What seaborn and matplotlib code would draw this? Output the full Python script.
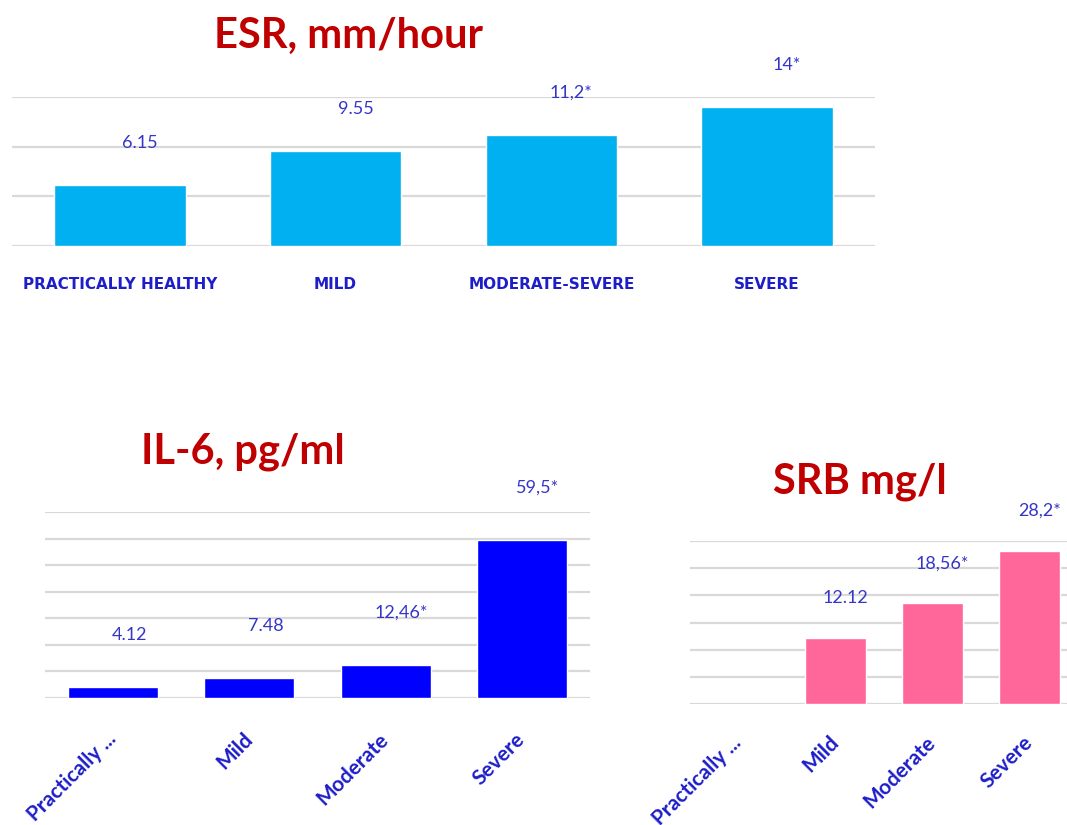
import numpy as np
import matplotlib
matplotlib.use("Agg")
import matplotlib.pyplot as plt
import seaborn as sns

# ---- data ----
esr_categories = ["PRACTICALLY HEALTHY", "MILD", "MODERATE-SEVERE", "SEVERE"]
esr_values = [6.15, 9.55, 11.2, 14.0]
esr_labels = ["6.15", "9.55", "11,2*", "14*"]

il6_categories = ["Practically ...", "Mild", "Moderate", "Severe"]
il6_values = [4.12, 7.48, 12.46, 59.5]
il6_labels = ["4.12", "7.48", "12,46*", "59,5*"]

srb_categories = ["Practically ...", "Mild", "Moderate", "Severe"]
srb_values = [np.nan, 12.12, 18.56, 28.2]
srb_labels = ["", "12.12", "18,56*", "28,2*"]

# ---- style ----
sns.set_style("white")
plt.rcParams["font.family"] = ["Lato", "DejaVu Sans"]

TITLE_COLOR = "#c00000"
LABEL_COLOR = "#3535c8"
TICK_COLOR = "#1e1ec8"
GRID_COLOR = "#d9d9d9"

W, H = 1067, 825
fig = plt.figure(figsize=(W / 100, H / 100), dpi=100)


def px_axes(left, right, top, bottom):
    return fig.add_axes([left / W, 1 - bottom / H, (right - left) / W, (bottom - top) / H])


def style_axes(ax, ymax, step):
    ax.set_xlim(-0.5, 3.5)
    ax.set_ylim(0, ymax)
    ax.set_yticks(np.arange(0, ymax + step / 2, step))
    ax.yaxis.grid(True, color=GRID_COLOR, lw=1.6)
    ax.set_axisbelow(True)
    ax.tick_params(axis="y", left=False, labelleft=False)
    ax.tick_params(axis="x", bottom=False)
    for s in ax.spines.values():
        s.set_visible(False)
    ax.set_xlabel("")
    ax.set_ylabel("")
    ax.patch.set_alpha(0)


def value_labels(ax, values, labels, dx_px, dy_px, size=13):
    for i, (v, t) in enumerate(zip(values, labels)):
        if not t or np.isnan(v):
            continue
        ax.annotate(t, xy=(i, v), xytext=(dx_px * 0.72, dy_px * 0.72),
                    textcoords="offset points", ha="center", va="center",
                    fontsize=size, color=LABEL_COLOR)


# ---- ESR ----
ax1 = px_axes(12, 875, 97, 246)
sns.barplot(x=esr_categories, y=esr_values, color="#00b0f0", saturation=1,
            width=0.61, ax=ax1)
style_axes(ax1, 15, 5)
ax1.set_xticks(range(4))
ax1.set_xticklabels(esr_categories, fontsize=11, fontweight="bold",
                    color=TICK_COLOR, family=["DejaVu Sans"])
ax1.tick_params(axis="x", pad=19)
value_labels(ax1, esr_values, esr_labels, 20, 42)
fig.text(348 / W, 1 - 36 / H, "ESR, mm/hour", ha="center", va="center",
         fontsize=30, fontweight="bold", color=TITLE_COLOR)

# ---- IL-6 ----
ax2 = px_axes(45, 590, 512, 698)
sns.barplot(x=il6_categories, y=il6_values, color="#0000ff", saturation=1,
            width=0.66, ax=ax2)
style_axes(ax2, 70, 10)
ax2.set_xticks(range(4))
ax2.set_xticklabels(il6_categories, fontsize=15, fontweight="bold", color=TICK_COLOR,
                    rotation=45, ha="right", va="center", rotation_mode="anchor")
ax2.tick_params(axis="x", pad=24)
value_labels(ax2, il6_values, il6_labels, 16, 52)
fig.text(243 / W, 1 - 452 / H, "IL-6, pg/ml", ha="center", va="center",
         fontsize=30, fontweight="bold", color=TITLE_COLOR)

# ---- SRB ----
ax3 = px_axes(690, 1078, 541, 704)
sns.barplot(x=srb_categories, y=srb_values, color="#ff6699", saturation=1,
            width=0.62, ax=ax3)
style_axes(ax3, 30, 5)
ax3.set_xticks(range(4))
ax3.set_xticklabels(srb_categories, fontsize=15, fontweight="bold", color=TICK_COLOR,
                    rotation=45, ha="right", va="center", rotation_mode="anchor")
ax3.tick_params(axis="x", pad=22)
value_labels(ax3, srb_values, srb_labels, 10, 40)
fig.text(860 / W, 1 - 482 / H, "SRB mg/l", ha="center", va="center",
         fontsize=30, fontweight="bold", color=TITLE_COLOR)

fig.savefig("out.png", dpi=100)
